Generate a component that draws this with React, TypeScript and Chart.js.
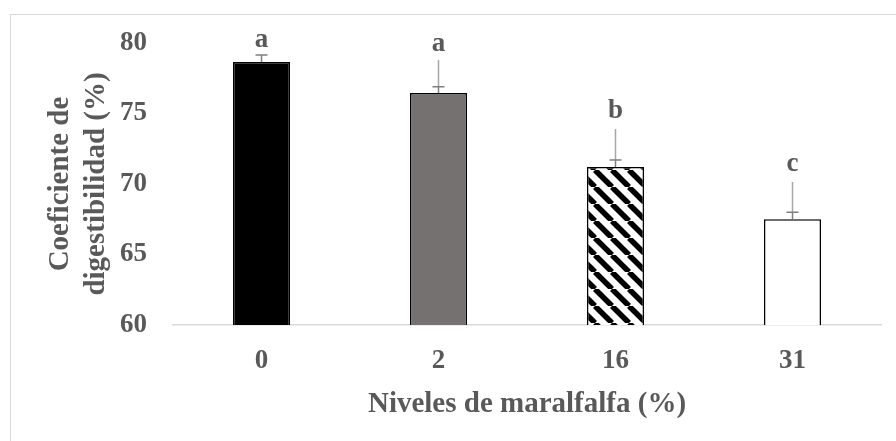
import { useEffect, useRef } from "react";
import { Chart, registerables } from "chart.js";
Chart.register(...registerables);

const categories = ["0", "2", "16", "31"];
const values = [78.65, 76.45, 71.2, 67.5];
const errors = [0.5, 0.45, 0.5, 0.5];
const letters = ["a", "a", "b", "c"];
const letterY = [80.2, 79.95, 75.2, 71.45];
const leaderTop: (number | null)[] = [null, 78.8, 73.9, 70.14];
const yMin = 60;
const yMax = 80;
const yStep = 5;

const FONT = "'Liberation Serif', 'Times New Roman', serif";
const TEXT = "#595959";

function makeHatch(): CanvasPattern | string {
  const s = 17;
  const c = document.createElement("canvas");
  c.width = s;
  c.height = s;
  const g = c.getContext("2d");
  if (!g) return "#000";
  g.fillStyle = "#fff";
  g.fillRect(0, 0, s, s);
  g.strokeStyle = "#000";
  g.lineWidth = 5.5;
  for (let k = -1; k <= 1; k++) {
    g.beginPath();
    g.moveTo(k * s, 0);
    g.lineTo(k * s + s, s);
    g.stroke();
  }
  return g.createPattern(c, "repeat") || "#000";
}

export default function App() {
  const ref = useRef<HTMLCanvasElement | null>(null);
  useEffect(() => {
    if (!ref.current) return;
    const hatch = makeHatch();
    const frame = {
      id: "frame",
      beforeDraw(chart: any) {
        const ctx = chart.ctx;
        ctx.save();
        ctx.strokeStyle = "#d9d9d9";
        ctx.lineWidth = 1;
        ctx.strokeRect(10.5, 14.5, 1000, 1000);
        ctx.restore();
      },
    };
    const annot = {
      id: "annot",
      afterDatasetsDraw(chart: any) {
        const ctx = chart.ctx;
        const xs = chart.scales.x;
        const ys = chart.scales.y;
        ctx.save();
        values.forEach((v, i) => {
          const x = xs.getPixelForValue(i);
          const yBar = ys.getPixelForValue(v);
          const yErr = ys.getPixelForValue(v + errors[i]);
          const lt = leaderTop[i];
          if (lt !== null) {
            ctx.strokeStyle = "#a6a6a6";
            ctx.lineWidth = 1.5;
            ctx.beginPath();
            ctx.moveTo(x, ys.getPixelForValue(lt));
            ctx.lineTo(x, yErr);
            ctx.stroke();
          }
          ctx.strokeStyle = "#7f7f7f";
          ctx.lineWidth = 1.5;
          ctx.beginPath();
          ctx.moveTo(x, yBar);
          ctx.lineTo(x, yErr);
          ctx.moveTo(x - 6, yErr);
          ctx.lineTo(x + 6, yErr);
          ctx.stroke();
          ctx.fillStyle = TEXT;
          ctx.font = `bold 27px ${FONT}`;
          ctx.textAlign = "center";
          ctx.textBaseline = "middle";
          ctx.fillText(letters[i], x, ys.getPixelForValue(letterY[i]));
        });
        ctx.restore();
      },
    };
    const chart = new Chart(ref.current, {
      type: "bar",
      data: {
        labels: categories,
        datasets: [
          {
            data: values,
            backgroundColor: ["#000000", "#767171", hatch as any, "#ffffff"],
            borderColor: "#000000",
            borderWidth: 1.5,
            categoryPercentage: 1,
            barPercentage: 0.322,
          },
        ],
      },
      options: {
        responsive: false,
        animation: false,
        devicePixelRatio: 1,
        layout: { padding: { left: 0, top: 43, right: 15, bottom: 0 } },
        plugins: { legend: { display: false }, tooltip: { enabled: false } },
        scales: {
          x: {
            grid: { display: false, drawTicks: false },
            border: { display: true, color: "#d9d9d9", width: 1.5 },
            ticks: {
              padding: 20,
              color: TEXT,
              font: { family: FONT, size: 27, weight: "bold" },
            },
            title: {
              display: true,
              text: "Niveles de maralfalfa (%)",
              color: TEXT,
              font: { family: FONT, size: 29, weight: "bold", lineHeight: 1.2 },
              padding: { top: 0, bottom: 19 },
            },
            afterFit(s: any) {
              s.height = 116;
            },
          },
          y: {
            min: yMin,
            max: yMax,
            grid: { display: false, drawTicks: false },
            border: { display: false },
            ticks: {
              stepSize: yStep,
              padding: 26,
              color: TEXT,
              font: { family: FONT, size: 27, weight: "bold" },
            },
            title: {
              display: true,
              text: ["Coeficiente de", "digestibilidad (%)"],
              color: TEXT,
              font: { family: FONT, size: 29, weight: "bold", lineHeight: 1.24 },
              padding: { top: 43, bottom: 0 },
            },
            afterFit(s: any) {
              s.width = 173;
            },
          },
        },
      },
      plugins: [frame, annot],
    });
    return () => chart.destroy();
  }, []);
  return (
    <div style={{ position: "fixed", left: 0, top: 0, width: 896, height: 441, background: "#fff" }}>
      <canvas ref={ref} width={896} height={441} style={{ display: "block" }} />
    </div>
  );
}
